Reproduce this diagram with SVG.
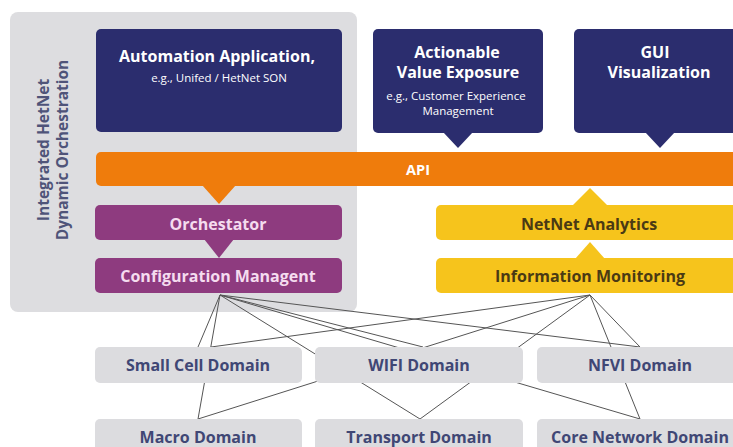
<svg xmlns="http://www.w3.org/2000/svg" width="733" height="447" viewBox="0 0 733 447">
<defs>
<style>
.t{font-family:"Open Sans","Liberation Sans",sans-serif;font-weight:700;text-anchor:middle}
.s{font-weight:400}
.w{fill:#ffffff}
.navy{fill:#2b2d6e}
.pur{fill:#8e3b7f}
.yel{fill:#f6c41c}
.org{fill:#ef7c0c}
.dom{fill:#dcdcdf}
.dt{fill:#404775;font-size:16px}
.pt{fill:#f5dcef;font-size:16px}
.yt{fill:#4a3a14;font-size:16px}
.cn line{stroke:#555;stroke-width:1}
</style>
</defs>
<rect width="733" height="447" fill="#ffffff"/>
<g id="panel">
<rect x="10" y="12" width="347" height="300" rx="8" fill="#dddde0"/>
<text class="t" transform="translate(49,150) rotate(-90)" fill="#4f5479" font-size="15.5">Integrated HetNet</text>
<text class="t" transform="translate(68,150) rotate(-90)" fill="#4f5479" font-size="15.5">Dynamic Orchestration</text>
</g>
<g id="connectors" class="cn">
<line x1="220" y1="295" x2="198" y2="347"/>
<line x1="220" y1="295" x2="198" y2="419"/>
<line x1="220" y1="295" x2="423" y2="347"/>
<line x1="220" y1="295" x2="420" y2="419"/>
<line x1="220" y1="295" x2="640" y2="347"/>
<line x1="220" y1="295" x2="640" y2="419"/>
<line x1="590" y1="295" x2="211" y2="347"/>
<line x1="590" y1="295" x2="198" y2="419"/>
<line x1="590" y1="295" x2="420" y2="419"/>
<line x1="590" y1="295" x2="640" y2="347"/>
<line x1="590" y1="295" x2="640" y2="419"/>
</g>
<g id="automation">
<rect class="navy" x="96" y="29" width="246" height="103" rx="5"/>
<text class="t w" x="217" y="62" font-size="16">Automation Application,</text>
<text class="t w s" x="219" y="82" font-size="11.5">e.g., Unifed / HetNet SON</text>
</g>
<g id="actionable">
<rect class="navy" x="373" y="29" width="170" height="104" rx="5"/>
<polygon class="navy" points="443,132 473,132 458,148"/>
<text class="t w" x="457" y="58" font-size="16">Actionable</text>
<text class="t w" x="458" y="78" font-size="16">Value Exposure</text>
<text class="t w s" x="456" y="100" font-size="11.5">e.g., Customer Experience</text>
<text class="t w s" x="458" y="115" font-size="11.5">Management</text>
</g>
<g id="gui">
<rect class="navy" x="574" y="29" width="172" height="104" rx="5"/>
<polygon class="navy" points="645,132 675,132 660,148"/>
<text class="t w" x="655" y="58" font-size="16">GUI</text>
<text class="t w" x="659" y="78" font-size="16">Visualization</text>
</g>
<g id="api">
<rect class="org" x="96" y="152" width="650" height="34" rx="5"/>
<polygon class="org" points="202,185 236,185 219,204"/>
<text class="t w" x="418" y="175" font-size="14.5">API</text>
</g>
<g id="orchestrator">
<rect class="pur" x="95" y="205" width="247" height="35" rx="5"/>
<polygon class="pur" points="204,239 234,239 219,258"/>
<text class="t pt" x="218" y="230">Orchestator</text>
</g>
<g id="config">
<rect class="pur" x="95" y="258" width="247" height="35" rx="5"/>
<text class="t pt" x="218" y="282">Configuration Managent</text>
</g>
<g id="analytics">
<rect class="yel" x="436" y="205" width="310" height="35" rx="5"/>
<polygon class="yel" points="572,206 608,206 590,188"/>
<text class="t yt" x="589" y="230">NetNet Analytics</text>
</g>
<g id="monitoring">
<rect class="yel" x="436" y="258" width="310" height="35" rx="5"/>
<polygon class="yel" points="575,259 605,259 590,242"/>
<text class="t yt" x="590" y="282">Information Monitoring</text>
</g>
<g id="smallcell">
<rect class="dom" x="95" y="347" width="207" height="36" rx="5"/>
<text class="t dt" x="198" y="371">Small Cell Domain</text>
</g>
<g id="wifi">
<rect class="dom" x="315" y="347" width="208" height="36" rx="5"/>
<text class="t dt" x="419" y="371">WIFI Domain</text>
</g>
<g id="nfvi">
<rect class="dom" x="537" y="347" width="210" height="36" rx="5"/>
<text class="t dt" x="640" y="371">NFVI Domain</text>
</g>
<g id="macro">
<rect class="dom" x="95" y="419" width="207" height="36" rx="5"/>
<text class="t dt" x="198" y="443">Macro Domain</text>
</g>
<g id="transport">
<rect class="dom" x="315" y="419" width="208" height="36" rx="5"/>
<text class="t dt" x="419" y="443">Transport Domain</text>
</g>
<g id="core">
<rect class="dom" x="537" y="419" width="210" height="36" rx="5"/>
<text class="t dt" x="640" y="443">Core Network Domain</text>
</g>
</svg>
